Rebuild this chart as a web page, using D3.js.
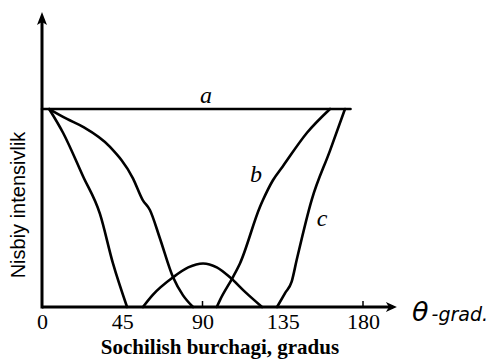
<!DOCTYPE html>
<html>
<head>
<meta charset="utf-8">
<script src="https://cdn.jsdelivr.net/npm/d3@7"></script>
<style>
    body { margin: 0; background: #fff; }
    svg { display: block; }
</style>
</head>
<body>
<div id="chart"></div>
<script>
// angle ticks on the x axis
const xTicks = [0, 45, 90, 135, 180];

// curve a - flat line
const aTheta = [0, 173];
const aValue = [1, 1];

// curve b - two branches
const bLeftTheta = [4, 14, 23, 38, 51, 56.5, 60.5, 66, 73.5, 79, 84.7];
const bLeftValue = [1, 0.95, 0.91, 0.81, 0.65, 0.54, 0.49, 0.35, 0.15, 0.06, 0];
const bRightTheta = [98, 99.8, 107, 111, 122.2, 123.9, 129.5, 135, 148.6, 161.5];
const bRightValue = [0, 0.035, 0.15, 0.22, 0.505, 0.54, 0.64, 0.71, 0.88, 1];

// curve c - three branches
const cLeftTheta = [4, 11.8, 23, 32.5, 39.8, 47.7];
const cLeftValue = [1, 0.88, 0.66, 0.47, 0.22, 0];
const cMidTheta = [56.6, 62, 73.5, 82, 90.3, 98, 105.4, 114, 123.4];
const cMidValue = [0, 0.06, 0.15, 0.2, 0.22, 0.2, 0.15, 0.075, 0];
const cRightTheta = [131.8, 136.3, 140, 142.8, 151.2, 161.5, 169.9];
const cRightValue = [0, 0.07, 0.128, 0.237, 0.54, 0.79, 1];

const width = 493;
const height = 360;

const svg = d3.select('#chart')
    .append('svg')
    .attr('width', width)
    .attr('height', height);

const x = d3.scaleLinear().domain([0, 180]).range([42, 363]);
const y = d3.scaleLinear().domain([0, 1]).range([307, 109]);

const zip = (t, v) => t.map((d, i) => [d, v[i]]);

const line = d3.line()
    .x(d => x(d[0]))
    .y(d => y(d[1]))
    .curve(d3.curveMonotoneX);

const curves = [
    zip(aTheta, aValue),
    zip(bLeftTheta, bLeftValue),
    zip(bRightTheta, bRightValue),
    zip(cLeftTheta, cLeftValue),
    zip(cMidTheta, cMidValue),
    zip(cRightTheta, cRightValue)
];

svg.append('g')
    .selectAll('path')
    .data(curves)
    .enter()
    .append('path')
    .attr('d', line)
    .attr('fill', 'none')
    .attr('stroke', '#000')
    .attr('stroke-width', 2.6)
    .attr('stroke-linecap', 'round');

// axes with arrows
const xEnd = x(199);
const yTop = y(1.49);

svg.append('line')
    .attr('x1', x(0)).attr('y1', y(0))
    .attr('x2', xEnd - 4).attr('y2', y(0))
    .attr('stroke', '#000')
    .attr('stroke-width', 3);

svg.append('line')
    .attr('x1', x(0)).attr('y1', y(0) + 1.5)
    .attr('x2', x(0)).attr('y2', yTop + 6)
    .attr('stroke', '#000')
    .attr('stroke-width', 3);

svg.append('path')
    .attr('d', `M${xEnd},${y(0)}L${xEnd - 11},${y(0) - 5}L${xEnd - 8},${y(0)}L${xEnd - 11},${y(0) + 5}Z`)
    .attr('fill', '#000');

svg.append('path')
    .attr('d', `M${x(0)},${yTop}L${x(0) - 5},${yTop + 13}L${x(0)},${yTop + 10}L${x(0) + 5},${yTop + 13}Z`)
    .attr('fill', '#000');

// x tick labels
const xAxis = d3.axisBottom(x)
    .tickValues(xTicks)
    .tickSize(0)
    .tickPadding(6)
    .tickFormat(d3.format('d'));

const xAxisG = svg.append('g')
    .attr('transform', `translate(0,${y(0)})`)
    .call(xAxis);
xAxisG.select('.domain').remove();
xAxisG.selectAll('text')
    .attr('font-family', '"Liberation Serif", "Times New Roman", serif')
    .attr('font-size', 22)
    .attr('fill', '#000');

// small tick marks above the axis
svg.append('g')
    .selectAll('line')
    .data([90, 180])
    .enter()
    .append('line')
    .attr('x1', d => x(d)).attr('x2', d => x(d))
    .attr('y1', y(0)).attr('y2', y(0) - 6)
    .attr('stroke', '#000')
    .attr('stroke-width', 1.5);

// curve labels
const curveLabels = [
    { text: 'a', theta: 92, value: 1.03 },
    { text: 'b', theta: 120, value: 0.63 },
    { text: 'c', theta: 157, value: 0.41 }
];

svg.append('g')
    .selectAll('text')
    .data(curveLabels)
    .enter()
    .append('text')
    .attr('x', d => x(d.theta))
    .attr('y', d => y(d.value))
    .attr('font-family', '"Liberation Serif", "Times New Roman", serif')
    .attr('font-style', 'italic')
    .attr('font-size', 24)
    .attr('text-anchor', 'middle')
    .text(d => d.text);

// axis titles
svg.append('text')
    .attr('x', 220)
    .attr('y', 354)
    .attr('text-anchor', 'middle')
    .attr('font-family', '"Liberation Serif", "Times New Roman", serif')
    .attr('font-weight', 'bold')
    .attr('font-size', 21)
    .text('Sochilish burchagi, gradus');

svg.append('text')
    .attr('transform', 'translate(25,205) rotate(-90)')
    .attr('text-anchor', 'middle')
    .attr('font-family', '"Liberation Sans", Arial, sans-serif')
    .attr('font-size', 20)
    .text('Nisbiy intensivlik');

const thetaLabel = svg.append('text')
    .attr('x', 412)
    .attr('y', 321)
    .attr('font-family', '"DejaVu Sans", sans-serif')
    .attr('font-style', 'italic');
thetaLabel.append('tspan')
    .attr('font-size', 27)
    .text('θ');
thetaLabel.append('tspan')
    .attr('font-size', 19)
    .attr('dx', 3)
    .text('-grad.');
</script>
</body>
</html>
